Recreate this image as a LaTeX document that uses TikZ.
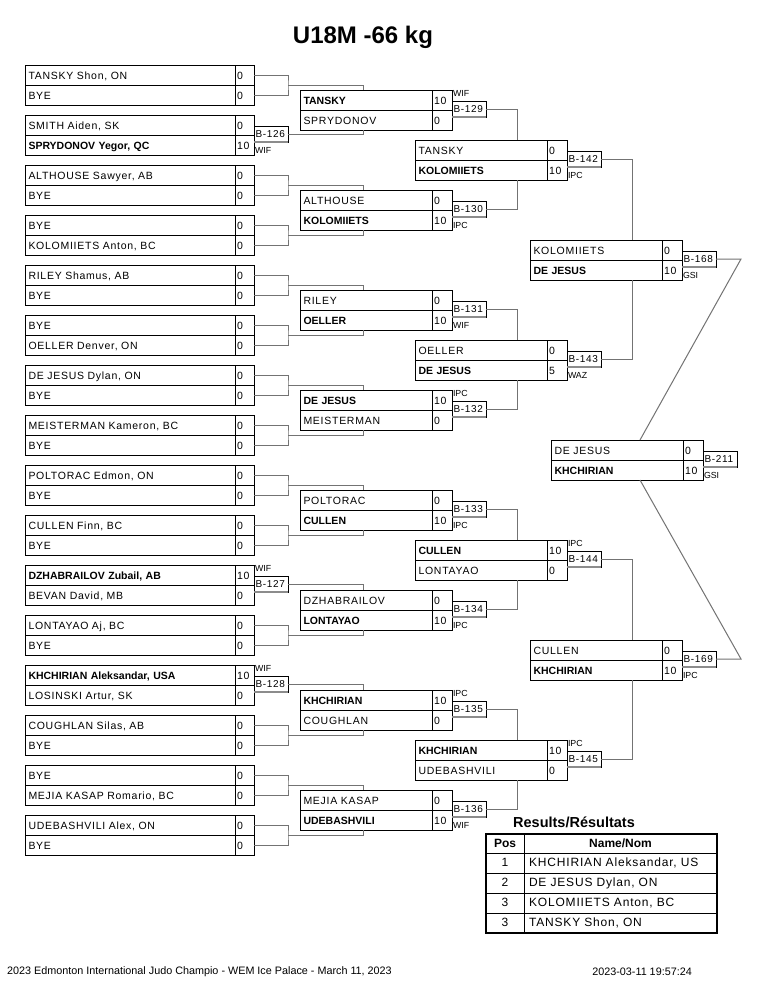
\documentclass[tikz,border=0pt]{standalone}
\usepackage{fontspec}
\setmainfont{Liberation Sans}
\newfontfamily\spc[LetterSpace=7]{Liberation Sans}
\newcommand\wn[1]{{\normalfont\bfseries #1}}
\tikzset{
 cellbase/.style={draw=black, line width=0.9pt, rectangle, outer sep=0pt, inner ysep=0pt,
   minimum height=20pt, text height=9.5pt, text depth=1.5pt, align=left,
   font=\spc\fontsize{10.5}{12}\selectfont},
 namecell/.style={cellbase, inner xsep=3.5pt},
 scorecell/.style={cellbase, inner xsep=2pt},
 labbox/.style={draw=black, line width=0.9pt, rectangle, outer sep=0pt, inner xsep=1.5pt,
   inner ysep=0pt, minimum height=16pt, text width=31pt, text height=8pt, text depth=1.5pt,
   align=left, font=\spc\fontsize{10}{12}\selectfont},
 labshade/.style={draw=black!45, line width=1.6pt},
 restext/.style={inner sep=0pt, outer sep=0pt, font=\fontsize{8.8}{10}\selectfont,
   text height=6.5pt, text depth=0pt},
 conn/.style={draw=black!55, line width=1pt},
 tcell/.style={draw=black, line width=0.9pt, rectangle, outer sep=0pt, inner ysep=0pt,
   text height=9pt, text depth=2pt},
}
% #1 id, #2 x, #3 y, #4 name text width, #5 score text width, #6 top name, #7 top score, #8 bottom name, #9 bottom score
\newcommand\bout[9]{%
 \node[namecell,text width=#4,anchor=north west] (#1t) at (#2,#3) {#6};
 \node[scorecell,text width=#5,anchor=north west] (#1ts) at (#1t.north east) {#7};
 \node[namecell,text width=#4,anchor=north west] (#1b) at (#1t.south west) {#8};
 \node[scorecell,text width=#5,anchor=north west] (#1bs) at (#1b.north east) {#9};
}
% label with result above
\newcommand\blabA[4]{%
 \node[labbox,anchor=north west] (#1) at ([yshift=9pt]#2ts.south east) {#3};
 \draw[labshade] (#1.south west) -- (#1.south east);
 \node[restext,anchor=west] (#1r) at ([xshift=1pt,yshift=8pt]#1.north west) {#4};
}
% label with result below
\newcommand\blabB[4]{%
 \node[labbox,anchor=north west] (#1) at ([yshift=9pt]#2ts.south east) {#3};
 \draw[labshade] (#1.south west) -- (#1.south east);
 \node[restext,anchor=west] (#1r) at ([xshift=1pt,yshift=-8pt]#1.south west) {#4};
}
% bye bracket
\newcommand\byebr[2]{%
 \coordinate (#2) at ([xshift=34pt]#1ts.south east);
 \draw[conn] (#1ts.east) -| (#2) |- (#1bs.east);
}
\begin{document}
\begin{tikzpicture}[x=1pt,y=-1pt]
\fill[white] (0,0) rectangle (765,990);
\useasboundingbox (0,0) rectangle (765,990);

\node[font=\fontsize{24}{28}\selectfont\bfseries] (title) at (363,37) {U18M -66 kg};

% ---------------- Round 1 ----------------
\bout{A1}{25}{65}{203pt}{15pt}{TANSKY Shon, ON}{0}{BYE}{0}
\bout{A2}{25}{115}{203pt}{15pt}{SMITH Aiden, SK}{0}{\wn{SPRYDONOV Yegor, QC}}{10}
\bout{A3}{25}{165}{203pt}{15pt}{ALTHOUSE Sawyer, AB}{0}{BYE}{0}
\bout{A4}{25}{215}{203pt}{15pt}{BYE}{0}{KOLOMIIETS Anton, BC}{0}
\bout{A5}{25}{265}{203pt}{15pt}{RILEY Shamus, AB}{0}{BYE}{0}
\bout{A6}{25}{315}{203pt}{15pt}{BYE}{0}{OELLER Denver, ON}{0}
\bout{A7}{25}{365}{203pt}{15pt}{DE JESUS Dylan, ON}{0}{BYE}{0}
\bout{A8}{25}{415}{203pt}{15pt}{MEISTERMAN Kameron, BC}{0}{BYE}{0}
\bout{A9}{25}{465}{203pt}{15pt}{POLTORAC Edmon, ON}{0}{BYE}{0}
\bout{A10}{25}{515}{203pt}{15pt}{CULLEN Finn, BC}{0}{BYE}{0}
\bout{A11}{25}{565}{203pt}{15pt}{\wn{DZHABRAILOV Zubail, AB}}{10}{BEVAN David, MB}{0}
\bout{A12}{25}{615}{203pt}{15pt}{LONTAYAO Aj, BC}{0}{BYE}{0}
\bout{A13}{25}{665}{203pt}{15pt}{\wn{KHCHIRIAN Aleksandar, USA}}{10}{LOSINSKI Artur, SK}{0}
\bout{A14}{25}{715}{203pt}{15pt}{COUGHLAN Silas, AB}{0}{BYE}{0}
\bout{A15}{25}{765}{203pt}{15pt}{BYE}{0}{MEJIA KASAP Romario, BC}{0}
\bout{A16}{25}{815}{203pt}{15pt}{UDEBASHVILI Alex, ON}{0}{BYE}{0}

\byebr{A1}{P1}
\blabB{L126}{A2}{B-126}{WIF}\coordinate (P2) at (L126.east);
\byebr{A3}{P3}
\byebr{A4}{P4}
\byebr{A5}{P5}
\byebr{A6}{P6}
\byebr{A7}{P7}
\byebr{A8}{P8}
\byebr{A9}{P9}
\byebr{A10}{P10}
\blabA{L127}{A11}{B-127}{WIF}\coordinate (P11) at (L127.east);
\byebr{A12}{P12}
\blabA{L128}{A13}{B-128}{WIF}\coordinate (P13) at (L128.east);
\byebr{A14}{P14}
\byebr{A15}{P15}
\byebr{A16}{P16}

% ---------------- Round 2 ----------------
\bout{B1}{300}{90}{125pt}{16pt}{\wn{TANSKY}}{10}{SPRYDONOV}{0}
\bout{B2}{300}{190}{125pt}{16pt}{ALTHOUSE}{0}{\wn{KOLOMIIETS}}{10}
\bout{B3}{300}{290}{125pt}{16pt}{RILEY}{0}{\wn{OELLER}}{10}
\bout{B4}{300}{390}{125pt}{16pt}{\wn{DE JESUS}}{10}{MEISTERMAN}{0}
\bout{B5}{300}{490}{125pt}{16pt}{POLTORAC}{0}{\wn{CULLEN}}{10}
\bout{B6}{300}{590}{125pt}{16pt}{DZHABRAILOV}{0}{\wn{LONTAYAO}}{10}
\bout{B7}{300}{690}{125pt}{16pt}{\wn{KHCHIRIAN}}{10}{COUGHLAN}{0}
\bout{B8}{300}{790}{125pt}{16pt}{MEJIA KASAP}{0}{\wn{UDEBASHVILI}}{10}

\blabA{L129}{B1}{B-129}{WIF}\coordinate (Q1) at (L129.east);
\blabB{L130}{B2}{B-130}{IPC}\coordinate (Q2) at (L130.east);
\blabB{L131}{B3}{B-131}{WIF}\coordinate (Q3) at (L131.east);
\blabA{L132}{B4}{B-132}{IPC}\coordinate (Q4) at (L132.east);
\blabB{L133}{B5}{B-133}{IPC}\coordinate (Q5) at (L133.east);
\blabB{L134}{B6}{B-134}{IPC}\coordinate (Q6) at (L134.east);
\blabA{L135}{B7}{B-135}{IPC}\coordinate (Q7) at (L135.east);
\blabB{L136}{B8}{B-136}{WIF}\coordinate (Q8) at (L136.east);

\foreach \jj in {1,...,8}{
  \pgfmathtruncatemacro\ua{2*\jj-1}
  \pgfmathtruncatemacro\ub{2*\jj}
  \draw[conn] (P\ua) -| ([xshift=63pt]B\jj t.north west);
  \draw[conn] (P\ub) -| ([xshift=63pt]B\jj b.south west);
}

% ---------------- Round 3 ----------------
\bout{C1}{415}{140}{125pt}{16pt}{TANSKY}{0}{\wn{KOLOMIIETS}}{10}
\bout{C2}{415}{340}{125pt}{16pt}{OELLER}{0}{\wn{DE JESUS}}{5}
\bout{C3}{415}{540}{125pt}{16pt}{\wn{CULLEN}}{10}{LONTAYAO}{0}
\bout{C4}{415}{740}{125pt}{16pt}{\wn{KHCHIRIAN}}{10}{UDEBASHVILI}{0}

\blabB{L142}{C1}{B-142}{IPC}\coordinate (R1) at (L142.east);
\blabB{L143}{C2}{B-143}{WAZ}\coordinate (R2) at (L143.east);
\blabA{L144}{C3}{B-144}{IPC}\coordinate (R3) at (L144.east);
\blabA{L145}{C4}{B-145}{IPC}\coordinate (R4) at (L145.east);

\foreach \kk in {1,...,4}{
  \pgfmathtruncatemacro\ua{2*\kk-1}
  \pgfmathtruncatemacro\ub{2*\kk}
  \draw[conn] (Q\ua) -| ([xshift=102pt]C\kk t.north west);
  \draw[conn] (Q\ub) -| ([xshift=102pt]C\kk b.south west);
}

% ---------------- Round 4 ----------------
\bout{D1}{530}{240}{125pt}{16pt}{KOLOMIIETS}{0}{\wn{DE JESUS}}{10}
\bout{D2}{530}{640}{125pt}{16pt}{CULLEN}{0}{\wn{KHCHIRIAN}}{10}

\blabB{L168}{D1}{B-168}{GSI}
\blabB{L169}{D2}{B-169}{IPC}

\draw[conn] (R1) -| ([xshift=102pt]D1t.north west);
\draw[conn] (R2) -| ([xshift=102pt]D1b.south west);
\draw[conn] (R3) -| ([xshift=102pt]D2t.north west);
\draw[conn] (R4) -| ([xshift=102pt]D2b.south west);

% ---------------- Final ----------------
\bout{F}{551}{440}{125pt}{16pt}{DE JESUS}{0}{\wn{KHCHIRIAN}}{10}
\blabB{L211}{F}{B-211}{GSI}

\coordinate (K1) at ([xshift=25pt]L168.east);
\coordinate (K2) at ([xshift=25pt]L169.east);
\draw[conn] (L168.east) -- (K1) -- ([xshift=89pt]Ft.north west);
\draw[conn] (L169.east) -- (K2) -- ([xshift=89pt]Fb.south west);

% ---------------- Results ----------------
\node[font=\fontsize{14.5}{16}\selectfont\bfseries] (restitle) at (574,822) {Results/Résultats};
\node[tcell, minimum width=38pt, minimum height=19pt, anchor=north west,
      font=\fontsize{12}{14}\selectfont\bfseries] (th1) at (486,834) {Pos};
\node[tcell, minimum width=193pt, minimum height=19pt, anchor=north west,
      font=\fontsize{12}{14}\selectfont\bfseries] (th2) at (th1.north east) {Name/Nom};
\foreach \rr/\pp/\nn in
   {1/1/{KHCHIRIAN Aleksandar, US}, 2/2/{DE JESUS Dylan, ON},
    3/3/{KOLOMIIETS Anton, BC}, 4/3/{TANSKY Shon, ON}}{
  \pgfmathtruncatemacro\yy{853+20*(\rr-1)}
  \node[tcell, minimum width=38pt, minimum height=20pt, anchor=north west,
        font=\spc\fontsize{12}{14}\selectfont] (tp\rr) at (486,\yy) {\pp};
  \node[tcell, minimum width=193pt, minimum height=20pt, anchor=north west,
        text width=183pt, inner xsep=5pt, align=left,
        font=\spc\fontsize{12}{14}\selectfont] (tn\rr) at (tp\rr.north east) {\nn};
}
\draw[line width=1.6pt] (th1.north west) rectangle (tn4.south east);

% ---------------- Footer ----------------
\node[anchor=west, inner sep=0pt, font=\fontsize{10.8}{12}\selectfont] (foot) at (7,972)
  {2023 Edmonton International Judo Champio - WEM Ice Palace - March 11, 2023};
\node[anchor=east, inner sep=0pt, font=\fontsize{10.8}{12}\selectfont] (stamp) at (692,972)
  {2023-03-11 19:57:24};
\end{tikzpicture}
\end{document}
